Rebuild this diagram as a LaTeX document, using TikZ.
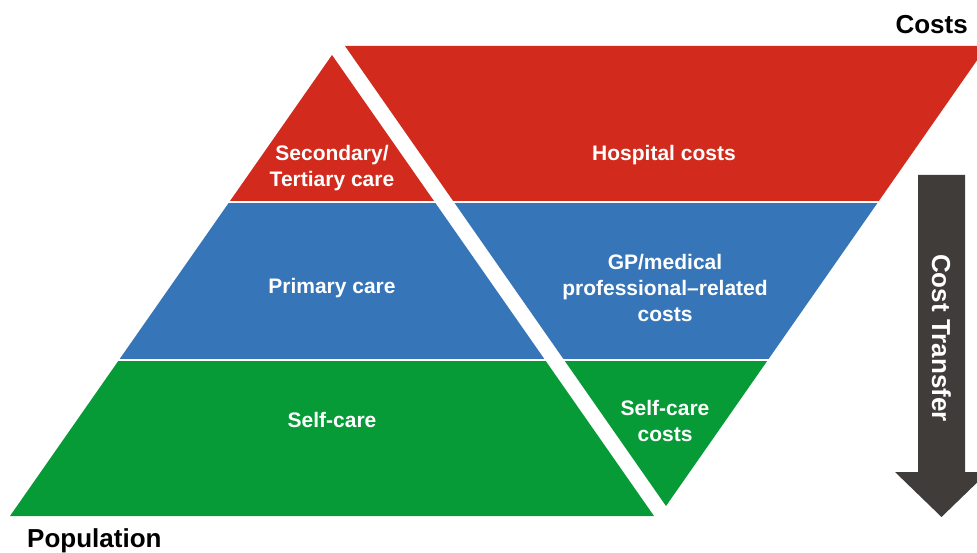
\documentclass[tikz,border=0pt]{standalone}
\usepackage{fontspec}
\setmainfont{Liberation Sans}
\definecolor{cred}{HTML}{D22A1C}
\definecolor{cblue}{HTML}{3575B8}
\definecolor{cgreen}{HTML}{069B36}
\definecolor{carrow}{HTML}{403C39}
\tikzset{
  lbl/.style={text=white, font=\bfseries\fontsize{21}{26}\selectfont, align=center, inner sep=0pt},
  big/.style={text=black, font=\bfseries\fontsize{26}{30}\selectfont, inner sep=0pt},
}
\begin{document}
\begin{tikzpicture}[x=1pt,y=-1pt]
\clip (0,0) rectangle (977,553);
\fill[white] (0,0) rectangle (977,553);
% bands
\begin{scope}
  \clip (0,0) rectangle (977,200.5);
  \fill[cred] (332,55) -- (654,516) -- (10,516) -- cycle;
  \fill[cred] (345,46) -- (987,46) -- (666,506) -- cycle;
\end{scope}
\begin{scope}
  \clip (0,203.5) rectangle (977,358);
  \fill[cblue] (332,55) -- (654,516) -- (10,516) -- cycle;
  \fill[cblue] (345,46) -- (987,46) -- (666,506) -- cycle;
\end{scope}
\begin{scope}
  \clip (0,361.5) rectangle (977,553);
  \fill[cgreen] (332,55) -- (654,516) -- (10,516) -- cycle;
  \fill[cgreen] (345,46) -- (987,46) -- (666,506) -- cycle;
\end{scope}
% arrow
\fill[carrow] (918,175) -- (965,175) -- (965,472) -- (988,472) -- (941.5,517) -- (895,472) -- (918,472) -- cycle;
\node[lbl, rotate=-90, font=\bfseries\fontsize{26}{30}\selectfont] (ct) at (941.5,338) {Cost Transfer};
% labels
\node[lbl] (sec) at (332,168) {Secondary/\\Tertiary care};
\node[lbl] (hosp) at (664,155) {Hospital costs};
\node[lbl] (prim) at (332,288) {Primary care};
\node[lbl] (gp) at (665,288) {GP/medical\\professional--related\\costs};
\node[lbl] (self) at (332,420) {Self-care};
\node[lbl] (selfc) at (665,421) {Self-care\\costs};
\node[big, anchor=base east] (costs) at (968,34) {Costs};
\node[big, anchor=base west] (pop) at (27,547) {Population};
\end{tikzpicture}
\end{document}
